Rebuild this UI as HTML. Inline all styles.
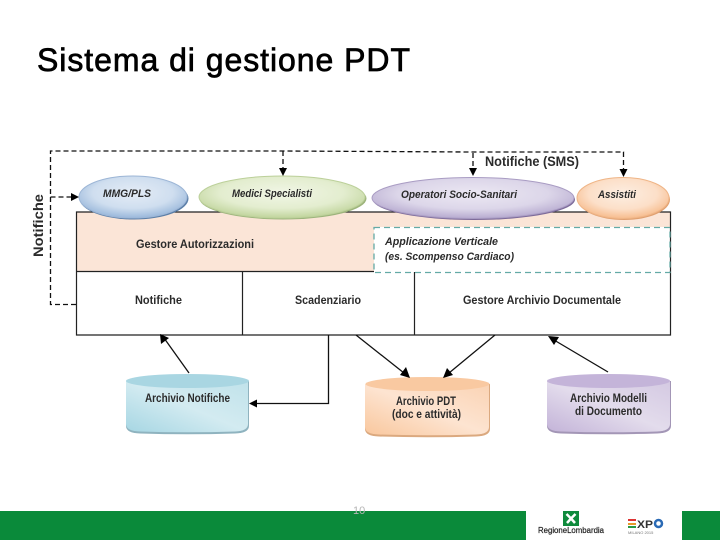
<!DOCTYPE html>
<html><head><meta charset="utf-8"><style>
html,body{margin:0;padding:0;background:#fff;width:720px;height:540px;overflow:hidden}
svg{display:block}
#d{filter:blur(.35px)}
text{font-family:"Liberation Sans",sans-serif;fill:#222}
.b{font-weight:bold;font-size:11.5px;fill:#2b2b2b}
.i{font-weight:bold;font-style:italic;font-size:11px;fill:#2b2b2b}
</style></head><body>
<svg width="720" height="540" viewBox="0 0 720 540" xmlns="http://www.w3.org/2000/svg">
<defs>
<radialGradient id="bl" cx=".5" cy=".4" r=".62"><stop offset="0" stop-color="#e4ecf6"/><stop offset=".6" stop-color="#cfdeef"/><stop offset="1" stop-color="#95b4d9"/></radialGradient>
<radialGradient id="gr" cx=".5" cy=".4" r=".62"><stop offset="0" stop-color="#f1f6e6"/><stop offset=".6" stop-color="#e3edcf"/><stop offset="1" stop-color="#bdd297"/></radialGradient>
<radialGradient id="pu" cx=".5" cy=".4" r=".62"><stop offset="0" stop-color="#ece8f3"/><stop offset=".6" stop-color="#dcd6e9"/><stop offset="1" stop-color="#b3a6cd"/></radialGradient>
<radialGradient id="or" cx=".5" cy=".4" r=".62"><stop offset="0" stop-color="#fdeee2"/><stop offset=".6" stop-color="#fcdfc8"/><stop offset="1" stop-color="#f6b988"/></radialGradient>
<linearGradient id="c1" x1="0" y1="1" x2="1" y2="0"><stop offset="0" stop-color="#a6d6e3"/><stop offset=".5" stop-color="#d3ebf1"/><stop offset="1" stop-color="#c0e2ea"/></linearGradient>
<linearGradient id="c2" x1="0" y1="1" x2="1" y2="0"><stop offset="0" stop-color="#f9c79d"/><stop offset=".5" stop-color="#fde4d1"/><stop offset="1" stop-color="#fad3b4"/></linearGradient>
<linearGradient id="c3" x1="0" y1="1" x2="1" y2="0"><stop offset="0" stop-color="#c3b3d8"/><stop offset=".5" stop-color="#e3dcec"/><stop offset="1" stop-color="#d4c9e2"/></linearGradient>
</defs>

<text x="37" y="71" font-size="32" textLength="373" lengthAdjust="spacing" style="fill:#000;stroke:#000;stroke-width:.7">Sistema di gestione PDT</text>

<g id="d">
<!-- main box -->
<rect x="76.5" y="212" width="594" height="59" fill="#fbe5d7"/>
<rect x="76.5" y="271.5" width="594" height="63.500" fill="#fff"/>
<rect x="374" y="227" width="296" height="45" fill="#fff"/>
<g stroke="#222" stroke-width="1.200" fill="none">
<path d="M76.500 212H670.500V335H76.500Z"/>
<path d="M76.500 271.500H374M242.500 271.500V335M414.500 272V335"/>
</g>
<rect x="374" y="227.500" width="296" height="45" fill="none" stroke="#64aaa6" stroke-width="1.300" stroke-dasharray="6 4"/>

<!-- ellipses -->
<ellipse cx="134" cy="198.500" rx="54.500" ry="21" fill="#5c7fa8"/>
<ellipse cx="133" cy="197" rx="54" ry="21" fill="url(#bl)" stroke="#9db6d6"/>
<ellipse cx="283" cy="198.500" rx="83.500" ry="21" fill="#9db47c"/>
<ellipse cx="282" cy="197" rx="83" ry="21" fill="url(#gr)" stroke="#bcd09a"/>
<ellipse cx="474" cy="199.500" rx="101" ry="20.500" fill="#7d6b9a"/>
<ellipse cx="473" cy="198" rx="101" ry="20.500" fill="url(#pu)" stroke="#a99cc3"/>
<ellipse cx="624" cy="199.500" rx="46" ry="20.500" fill="#e0a070"/>
<ellipse cx="623" cy="198" rx="46" ry="20.500" fill="url(#or)" stroke="#efb587"/>

<!-- dashed connectors -->
<g stroke="#111" stroke-width="1.300" fill="none" stroke-dasharray="5 3">
<path d="M76 304.500H50.500V151H283L470 152H623.500V172"/>
<path d="M50.500 197H72"/>
<path d="M283 151V170M473 153V171"/>
</g>
<g fill="#000">
<path d="M79 197L71 193V201Z"/>
<path d="M283 176L279 168H287Z"/>
<path d="M473 176L469 168H477Z"/>
<path d="M623.500 177L619.500 169H627.500Z"/>
</g>

<!-- cylinders -->
<path d="M126 381V426Q126 433 140 433.500Q187 435 235 433.500Q249 433 249 426V381Z" fill="#8fb3bf"/>
<path d="M126 381V424Q126 431 140 431.500Q187 433 235 431.500Q248 431 248 424V381Z" fill="url(#c1)"/>
<ellipse cx="187.500" cy="381" rx="61.500" ry="7" fill="#a9d6e2"/>

<path d="M365 384V429Q365 436 379 436.500Q427 438 476 436.500Q490 436 490 429V384Z" fill="#dba97f"/>
<path d="M365 384V427Q365 434 379 434.500Q427 436 476 434.500Q489 434 489 427V384Z" fill="url(#c2)"/>
<ellipse cx="427.500" cy="384" rx="62" ry="7" fill="#f9c9a1"/>

<path d="M547 381V426Q547 433 561 433.500Q609 435 657 433.500Q671 433 671 426V381Z" fill="#a396b6"/>
<path d="M547 381V424Q547 431 561 431.500Q609 433 657 431.500Q670 431 670 424V381Z" fill="url(#c3)"/>
<ellipse cx="608.500" cy="381" rx="61.500" ry="7" fill="#c4b4d9"/>

<!-- solid connectors -->
<g stroke="#111" stroke-width="1.300" fill="none">
<path d="M189 373L164 338"/>
<path d="M328.500 335V403.500H256"/>
<path d="M356 335L404 373"/>
<path d="M495 335L449 373"/>
<path d="M608 372L554 340"/>
</g>
<g fill="#000">
<path d="M160 334L161 344L169 338Z"/>
<path d="M249 403.500L257 399.500V407.500Z"/>
<path d="M410 378L400 375L406 367Z"/>
<path d="M443 378L447 368L453 375Z"/>
<path d="M548 336L559 337L554 345Z"/>
</g>

<!-- labels -->
<text transform="translate(43,257) rotate(-90)" font-size="14" font-weight="bold" textLength="63" lengthAdjust="spacingAndGlyphs" style="fill:#2b2b2b">Notifiche</text>
<text x="485" y="166" font-size="13.500" font-weight="bold" textLength="94" lengthAdjust="spacingAndGlyphs" style="fill:#2b2b2b">Notifiche (SMS)</text>
<text x="103" y="197" class="i" textLength="48" lengthAdjust="spacingAndGlyphs">MMG/PLS</text>
<text x="232" y="197" class="i" textLength="80" lengthAdjust="spacingAndGlyphs">Medici Specialisti</text>
<text x="401" y="198" class="i" textLength="116" lengthAdjust="spacingAndGlyphs">Operatori Socio-Sanitari</text>
<text x="598" y="198" class="i" textLength="38" lengthAdjust="spacingAndGlyphs">Assistiti</text>
<text x="136" y="248" class="b" textLength="118" lengthAdjust="spacingAndGlyphs">Gestore Autorizzazioni</text>
<text x="385" y="245" class="i" textLength="113" lengthAdjust="spacingAndGlyphs">Applicazione  Verticale</text>
<text x="385" y="260" class="i" textLength="129" lengthAdjust="spacingAndGlyphs">(es. Scompenso  Cardiaco)</text>
<text x="135" y="304" class="b" textLength="47" lengthAdjust="spacingAndGlyphs">Notifiche</text>
<text x="295" y="304" class="b" textLength="66" lengthAdjust="spacingAndGlyphs">Scadenziario</text>
<text x="463" y="304" class="b" textLength="158" lengthAdjust="spacingAndGlyphs">Gestore Archivio Documentale</text>
<text x="145" y="402" class="b" textLength="85" lengthAdjust="spacingAndGlyphs">Archivio Notifiche</text>
<text x="396" y="405" class="b" textLength="60" lengthAdjust="spacingAndGlyphs">Archivio PDT</text>
<text x="392" y="418" class="b" textLength="69" lengthAdjust="spacingAndGlyphs">(doc e attività)</text>
<text x="570" y="402" class="b" textLength="77" lengthAdjust="spacingAndGlyphs">Archivio Modelli</text>
<text x="575" y="415" class="b" textLength="67" lengthAdjust="spacingAndGlyphs">di Documento</text>

<!-- footer -->
<rect x="0" y="511" width="526" height="29" fill="#0a8a3a"/>
<rect x="682" y="511" width="38" height="29" fill="#0a8a3a"/>
<text x="353" y="514" font-size="11" style="fill:#b5b5b5">10</text>
<rect x="563" y="511" width="16" height="15" fill="#0f8a3c"/>
<path d="M571 518.500L566.500 514M571 518.500L575.500 514M571 518.500L567 523M571 518.500L575 523" stroke="#fff" stroke-width="2.500"/>
<text x="538" y="533" font-size="8" textLength="66" lengthAdjust="spacingAndGlyphs" style="fill:#222;stroke:#222;stroke-width:.2">RegioneLombardia</text>
<!-- EXPO -->
<rect x="628" y="519" width="8" height="2" fill="#d33"/>
<rect x="628" y="523" width="8" height="2" fill="#e89a2a"/>
<rect x="628" y="526" width="8" height="2" fill="#2a9a45"/>
<text x="637" y="528" font-size="11" font-weight="bold" textLength="16" lengthAdjust="spacingAndGlyphs" style="fill:#333">XP</text>
<circle cx="658.500" cy="523.500" r="3.500" fill="none" stroke="#2a6ab5" stroke-width="2.500"/>
<text x="628" y="534" font-size="4" style="fill:#777">MILANO 2015</text>
</g>
</svg>
</body></html>
